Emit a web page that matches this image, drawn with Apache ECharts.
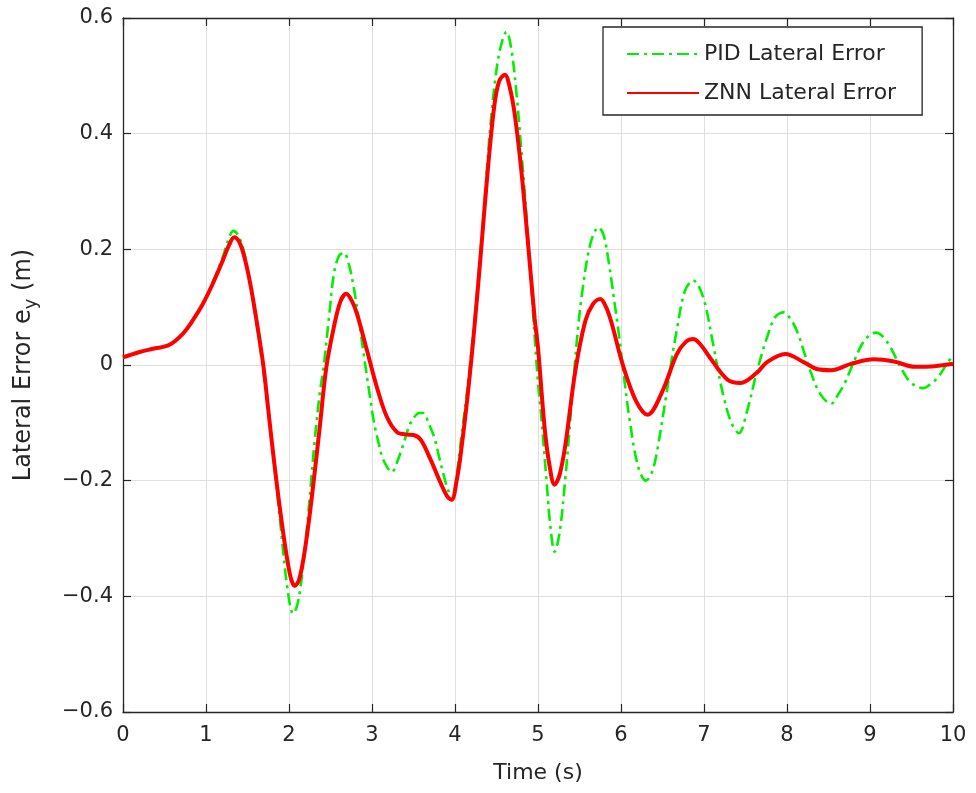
<!DOCTYPE html>
<html>
<head>
<meta charset="utf-8">
<script src="https://cdn.jsdelivr.net/npm/echarts@6/dist/echarts.min.js"></script>
<style>
html,body{margin:0;padding:0;background:#fff;}
#chart{width:976px;height:793px;}
</style>
</head>
<body>
<div id="chart"></div>
<script>
// Time (s) and lateral error (m)
const znnTime = [0,0.19,0.36,0.56,0.72,0.84,0.96,1.08,1.2,1.28,1.34,1.4,1.46,1.53,1.6,1.69,1.75,1.81,1.91,2.01,2.07,2.12,2.18,2.25,2.31,2.37,2.45,2.54,2.62,2.69,2.76,2.82,2.94,3.06,3.18,3.3,3.4,3.5,3.59,3.71,3.83,3.91,3.96,4.02,4.07,4.15,4.23,4.31,4.39,4.47,4.53,4.6,4.66,4.72,4.8,4.88,4.96,5.0,5.08,5.14,5.2,5.26,5.33,5.45,5.57,5.66,5.75,5.82,5.89,6.02,6.18,6.32,6.5,6.67,6.78,6.87,6.96,7.07,7.28,7.44,7.64,7.76,7.98,8.2,8.36,8.53,8.77,9.05,9.29,9.54,9.78,10];
const znnError = [0.013,0.022,0.028,0.035,0.054,0.077,0.105,0.14,0.18,0.208,0.221,0.213,0.188,0.143,0.085,0.0,-0.077,-0.154,-0.269,-0.361,-0.382,-0.372,-0.33,-0.258,-0.185,-0.108,-0.004,0.065,0.11,0.123,0.11,0.088,0.025,-0.039,-0.09,-0.116,-0.12,-0.121,-0.13,-0.165,-0.205,-0.228,-0.233,-0.2,-0.153,-0.056,0.059,0.191,0.329,0.444,0.49,0.502,0.48,0.433,0.335,0.21,0.08,0.03,-0.109,-0.175,-0.207,-0.19,-0.138,-0.01,0.076,0.105,0.114,0.1,0.071,0.001,-0.062,-0.086,-0.045,0.018,0.04,0.045,0.035,0.013,-0.025,-0.031,-0.013,0.005,0.019,0.005,-0.007,-0.009,0.002,0.01,0.006,-0.003,-0.002,0.002];
const pidTime = [0,0.19,0.36,0.56,0.72,0.84,0.96,1.08,1.2,1.27,1.33,1.39,1.45,1.52,1.6,1.68,1.75,1.82,1.9,1.98,2.05,2.1,2.16,2.23,2.31,2.37,2.42,2.48,2.54,2.6,2.66,2.72,2.78,2.84,2.9,2.96,3.02,3.08,3.14,3.24,3.31,3.38,3.45,3.51,3.57,3.62,3.68,3.75,3.81,3.87,3.92,3.97,4.02,4.08,4.15,4.23,4.31,4.37,4.43,4.49,4.55,4.62,4.68,4.74,4.8,4.87,4.94,5.0,5.04,5.1,5.15,5.2,5.26,5.33,5.38,5.43,5.48,5.53,5.63,5.73,5.79,5.85,5.91,5.98,6.04,6.1,6.2,6.3,6.36,6.42,6.54,6.6,6.67,6.77,6.87,6.99,7.11,7.17,7.24,7.33,7.42,7.52,7.64,7.76,7.86,7.96,8.04,8.12,8.2,8.28,8.4,8.53,8.62,8.69,8.81,8.93,9.07,9.21,9.37,9.49,9.64,9.73,9.82,9.94,10];
const pidError = [0.013,0.022,0.028,0.035,0.054,0.077,0.106,0.143,0.186,0.217,0.232,0.224,0.2,0.152,0.08,0.0,-0.08,-0.17,-0.28,-0.385,-0.43,-0.415,-0.36,-0.26,-0.13,-0.05,0.0,0.08,0.157,0.188,0.194,0.175,0.134,0.08,0.019,-0.04,-0.096,-0.135,-0.165,-0.185,-0.165,-0.136,-0.105,-0.09,-0.083,-0.083,-0.1,-0.125,-0.16,-0.194,-0.218,-0.228,-0.19,-0.12,-0.04,0.07,0.2,0.31,0.42,0.5,0.55,0.576,0.545,0.47,0.37,0.24,0.09,-0.03,-0.09,-0.195,-0.28,-0.323,-0.29,-0.195,-0.11,-0.022,0.06,0.123,0.209,0.238,0.225,0.18,0.12,0.047,-0.025,-0.091,-0.172,-0.2,-0.19,-0.16,-0.057,0.0,0.059,0.128,0.146,0.117,0.036,-0.01,-0.057,-0.1,-0.118,-0.079,-0.01,0.048,0.083,0.091,0.08,0.059,0.025,-0.01,-0.05,-0.067,-0.05,-0.033,0.007,0.042,0.056,0.039,-0.004,-0.03,-0.04,-0.033,-0.021,0.005,0.016];
const xTicks = [0,1,2,3,4,5,6,7,8,9,10];
const yTicks = [-0.6,-0.4,-0.2,0,0.2,0.4,0.6];
const seriesNames = ['PID Lateral Error','ZNN Lateral Error'];

const zip = (a,b) => a.map((t,i)=>[t,b[i]]);
const FONT = '"DejaVu Sans", "Liberation Sans", Arial, sans-serif';
const AX = '#262626';
const fmtY = v => { const s = (Math.round(v*10)/10).toString(); return s.replace('-', '\u2212'); };

const chart = echarts.init(document.getElementById('chart'), null, {renderer:'canvas'});
const axisCommon = {
  axisLine:{show:true, onZero:false, lineStyle:{color:AX, width:1.3}},
  axisTick:{show:true, inside:true, length:8, lineStyle:{color:AX, width:1.2}},
};
chart.setOption({
  animation:false,
  backgroundColor:'#ffffff',
  grid:{left:123, right:23, top:18, bottom:81, containLabel:false},
  legend:{
    orient:'vertical', left:603, top:27,
    padding:[16,26,11,23], itemGap:17, itemWidth:72, itemHeight:14,
    backgroundColor:'#ffffff', borderColor:'#262626', borderWidth:1.3,
    textStyle:{fontFamily:FONT, fontSize:22, color:'#262626'},
    itemStyle:{color:'rgba(0,0,0,0)', borderColor:'rgba(0,0,0,0)', borderWidth:0},
    data:seriesNames
  },
  xAxis:[
    Object.assign({type:'value', min:xTicks[0], max:xTicks[xTicks.length-1], interval:1, position:'bottom',
      name:'Time (s)', nameLocation:'middle', nameGap:50,
      nameTextStyle:{fontFamily:FONT, fontSize:22, color:AX},
      axisLabel:{fontFamily:FONT, fontSize:21, color:AX, margin:13},
      splitLine:{show:true, lineStyle:{color:'#dfdfdf', width:1}}}, axisCommon),
    Object.assign({type:'value', min:xTicks[0], max:xTicks[xTicks.length-1], interval:1, position:'top',
      axisLabel:{show:false}, splitLine:{show:false}}, axisCommon)
  ],
  yAxis:[
    Object.assign({type:'value', min:yTicks[0], max:yTicks[yTicks.length-1], interval:0.2, position:'left',
      name:'Lateral Error e{sub|y} (m)', nameLocation:'middle', nameGap:83,
      nameTextStyle:{fontFamily:FONT, fontSize:24, color:AX,
        rich:{sub:{fontFamily:FONT, fontSize:18, color:AX, padding:[15,0,0,0]}}},
      axisLabel:{fontFamily:FONT, fontSize:21, color:AX, margin:10, formatter:fmtY},
      splitLine:{show:true, lineStyle:{color:'#dfdfdf', width:1}}}, axisCommon),
    Object.assign({type:'value', min:yTicks[0], max:yTicks[yTicks.length-1], interval:0.2, position:'right',
      axisLabel:{show:false}, splitLine:{show:false}}, axisCommon)
  ],
  series:[
    {name:seriesNames[0], type:'line', xAxisIndex:0, yAxisIndex:0, data:zip(pidTime,pidError),
      smooth:0.35, symbol:'none', color:'#00f000',
      lineStyle:{color:'#00f000', width:2.6, type:[12,5,3,5]}, z:2},
    {name:seriesNames[1], type:'line', xAxisIndex:0, yAxisIndex:0, data:zip(znnTime,znnError),
      smooth:0.35, symbol:'none', color:'#ff0000',
      lineStyle:{color:'#ff0000', width:4}, z:3}
  ]
});
</script>
</body>
</html>
